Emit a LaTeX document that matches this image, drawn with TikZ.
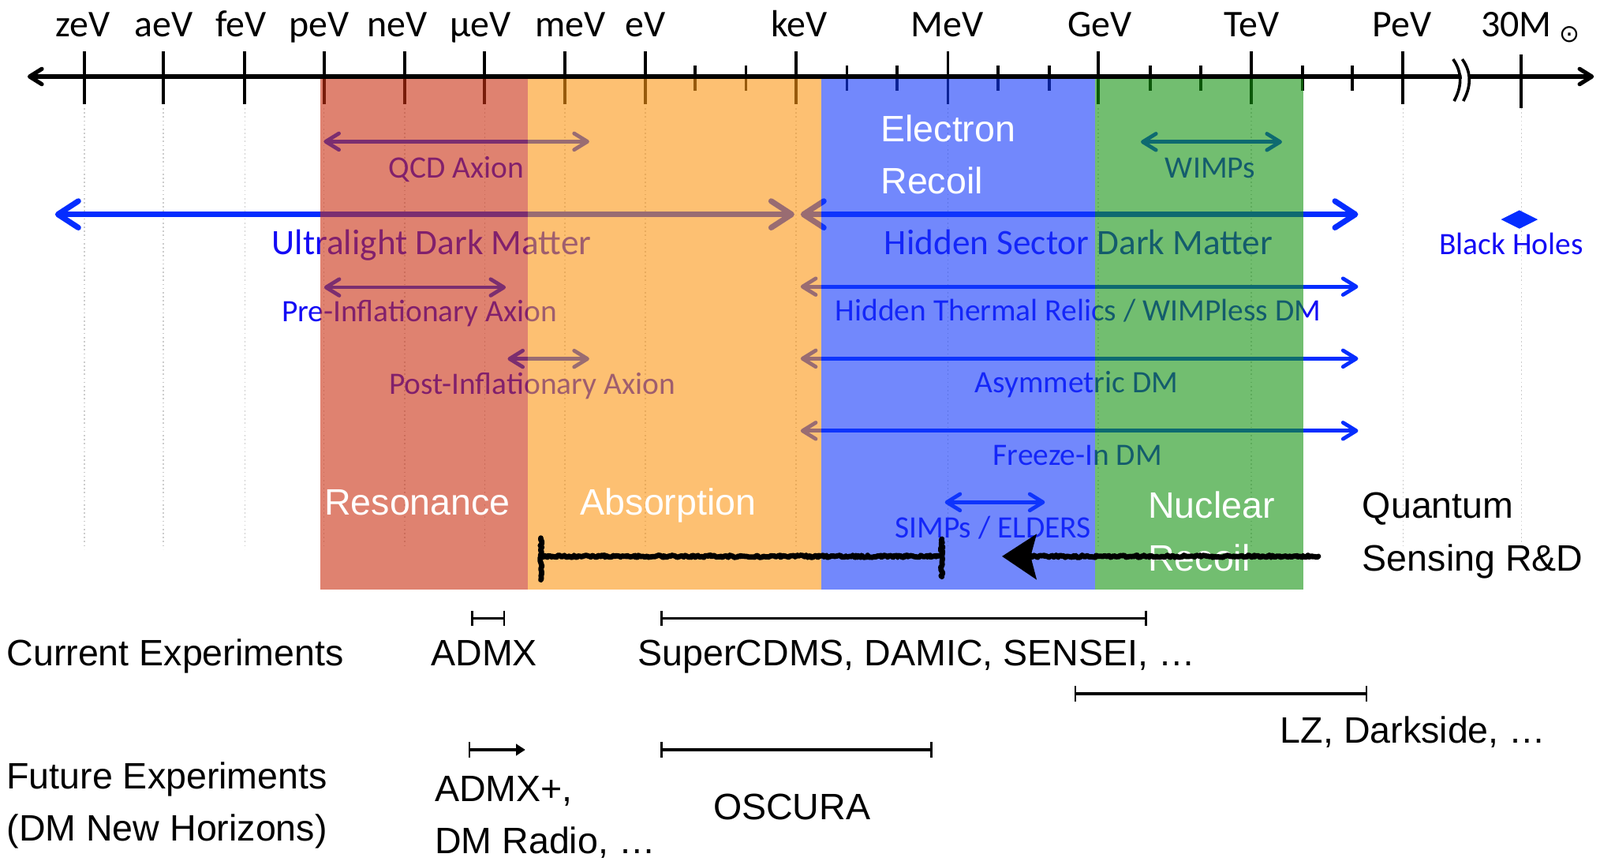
\documentclass[tikz,border=0pt]{standalone}
\usepackage{fontspec}
\setmainfont{Liberation Sans}
\newfontfamily\calib{Carlito}
\newfontfamily\djv{DejaVu Sans}
\usetikzlibrary{arrows.meta,decorations.pathmorphing}

\definecolor{arrblue}{RGB}{5,45,255}
\definecolor{txtblue}{RGB}{20,10,245}
\definecolor{bandred}{RGB}{203,47,17}
\definecolor{bandorange}{RGB}{252,150,20}
\definecolor{bandblue}{RGB}{20,58,250}
\definecolor{bandgreen}{RGB}{20,148,17}

\begin{document}
\begin{tikzpicture}[x=1pt,y=-1pt,
  bigarrow/.style={draw=arrblue, line width=5.5pt, {Straight Barb[length=20pt,width=26pt,round]}-{Straight Barb[length=20pt,width=26pt,round]}},
  smallarrow/.style={draw=arrblue, line width=3.7pt, {Straight Barb[length=13pt,width=16pt,round]}-{Straight Barb[length=13pt,width=16pt,round]}},
  axisline/.style={line width=4pt, {Straight Barb[length=12pt,width=15pt,round]}-{Straight Barb[length=12pt,width=15pt,round]}},
  biglabel/.style={anchor=base, text=txtblue, font=\calib\fontsize{35}{40}\selectfont, inner sep=0pt},
  smalllabel/.style={anchor=base, text=txtblue, font=\calib\fontsize{30.5}{36}\selectfont, inner sep=0pt},
  ticklabel/.style={anchor=base, font=\calib\fontsize{37}{42}\selectfont, inner sep=0pt},
  bandlabel/.style={anchor=base, text=white, font=\fontsize{36}{42}\selectfont, inner sep=0pt},
  explabel/.style={anchor=base, font=\fontsize{36}{42}\selectfont, inner sep=0pt},
  gridline/.style={draw=gray!40, line width=1.3pt, dash pattern=on 1.3pt off 2.7pt},
  bandfill/.style={fill opacity=0.6},
  expbar/.style={line width=2.5pt, {Bar[width=15pt,line width=2pt]}-{Bar[width=15pt,line width=2pt]}},
  qsline/.style={line width=5.2pt, line join=round, line cap=round, decorate, decoration={random steps, segment length=1.5pt, amplitude=1.1pt}},
]
\fill[white] (0,0) rectangle (1568,847);
\useasboundingbox (0,0) rectangle (1568,847);

% dotted grid
\foreach \x in {82.5,160,240,317.5,396.5,475,553.5,632.5,780,929,1076.5,1226.5,1375,1491}
  \draw[gridline] (\x,106) -- (\x,538);

% axis
\draw[axisline] (27,75) -- (1562,75);
\foreach \x in {82.5,160,240,317.5,396.5,475,553.5,632.5,780,929,1076.5,1226.5,1375}
  \draw[line width=3pt] (\x,50) -- (\x,102);
\draw[line width=3pt] (1491,53) -- (1491,106);
\foreach \x in {681,731,830,879,978,1028,1127,1176.5,1276.5,1325}
  \draw[line width=3pt] (\x,64) -- (\x,89);
% break mark
\draw[white, line width=8pt] (1429,57) .. controls (1440,72) and (1438,86) .. (1431,100);
\draw[line width=2.8pt] (1424,58) .. controls (1434,72) and (1432,86) .. (1425,99);
\draw[line width=2.8pt] (1433,58) .. controls (1443,72) and (1441,86) .. (1434,99);

% tick labels
\node[ticklabel] (lzeV) at (81,36) {zeV};
\node[ticklabel] (laeV) at (160.5,36) {aeV};
\node[ticklabel] (lfeV) at (236,36) {feV};
\node[ticklabel] (lpeV) at (312.5,36) {peV};
\node[ticklabel] (lneV) at (389,36) {neV};
\node[ticklabel] (lmueV) at (471,36) {μeV};
\node[ticklabel] (lmeV) at (559,36) {meV};
\node[ticklabel] (leV) at (632.5,36) {eV};
\node[ticklabel] (lkeV) at (783,36) {keV};
\node[ticklabel] (lMeV) at (928,36) {MeV};
\node[ticklabel] (lGeV) at (1078,36) {GeV};
\node[ticklabel] (lTeV) at (1226.5,36) {TeV};
\node[ticklabel] (lPeV) at (1374,36) {PeV};
\node[ticklabel] (l30M) at (1486,36) {30M};
\node[inner sep=0pt, font=\djv\fontsize{24}{28}\selectfont] (lsun) at (1538,33.5) {⊙};

% dark matter candidates (under the bands)
\draw[smallarrow] (317.3,138.7) -- (577.5,138.7);
\node[smalllabel] (qcd) at (447,174) {QCD Axion};
\draw[bigarrow] (54,210) -- (778.5,210);
\node[biglabel] (uldm) at (423,249) {Ultralight Dark Matter};
\draw[bigarrow] (784.6,210) -- (1331,210);
\node[biglabel] (hsdm) at (1057,249) {Hidden Sector Dark Matter};
\draw[smallarrow] (1118,139) -- (1256.4,139);
\node[smalllabel] (wimps) at (1186,174) {WIMPs};
\fill[arrblue] (1471,215) -- (1489,206) -- (1507,215) -- (1489,224) -- cycle;
\node[smalllabel] (bh) at (1481,249) {Black Holes};
\draw[smallarrow] (317.6,281.5) -- (495.7,281.5);
\node[smalllabel] (pre) at (411,315) {Pre-Inflationary Axion};
\draw[smallarrow] (784.6,280.8) -- (1331,280.8);
\node[smalllabel] (htr) at (1056.5,314.5) {Hidden Thermal Relics / WIMPless DM};
\draw[smallarrow] (497.5,351.5) -- (577.5,351.5);
\node[smalllabel] (post) at (521.5,386) {Post-Inflationary Axion};
\draw[smallarrow] (784.6,351.3) -- (1331,351.3);
\node[smalllabel] (asym) at (1055,385) {Asymmetric DM};
\draw[smallarrow] (784.6,422) -- (1331,422);
\node[smalllabel] (fi) at (1056,456) {Freeze-In DM};
\draw[smallarrow] (926,492) -- (1024,492);
\node[smalllabel] (simp) at (973,527) {SIMPs / ELDERS};

% bands
\fill[bandred, bandfill] (314,77) rectangle (517,577.5);
\fill[bandorange, bandfill] (517,77) rectangle (805,577.5);
\fill[bandblue, bandfill] (805,77) rectangle (1073,577.5);
\fill[bandgreen, bandfill] (1073,77) rectangle (1277,577.5);

% band labels
\node[bandlabel, anchor=base west] (el1) at (863,138.6) {Electron};
\node[bandlabel, anchor=base west] (el2) at (863,190) {Recoil};
\node[bandlabel] (res) at (409,504.6) {Resonance};
\node[bandlabel] (abs) at (655,504.6) {Absorption};
\node[bandlabel, anchor=base west] (nr1) at (1125,507.5) {Nuclear};
\node[bandlabel, anchor=base west] (nr2) at (1125,559) {Recoil};

% quantum sensing arrow
\draw[qsline] (530,545) -- (923,545);
\draw[qsline] (530,527) -- (530,568);
\draw[qsline] (923,528) -- (923,565);
\draw[qsline] (1008,545) -- (1292,545);
\fill[line join=round] (982,545) -- (1016,523) -- (1010,545) -- (1016,568) -- cycle;
\node[explabel, anchor=base west] (qs1) at (1335,507.7) {Quantum};
\node[explabel, anchor=base west] (qs2) at (1335,559) {Sensing R\&D};

% experiments
\node[explabel, anchor=base west] (cur) at (6.4,652) {Current Experiments};
\draw[expbar] (461.6,605.6) -- (495,605.6);
\node[explabel] (admx) at (474.5,652) {ADMX};
\draw[expbar] (647.5,605.6) -- (1124.2,605.6);
\node[explabel, anchor=base west] (scdms) at (625,652) {SuperCDMS, DAMIC, SENSEI, …};
\draw[expbar] (1052.8,679.6) -- (1340,679.6);
\node[explabel, anchor=base west] (lz) at (1254.6,728) {LZ, Darkside, …};

\node[explabel, anchor=base west] (fut1) at (6.4,773) {Future Experiments};
\node[explabel, anchor=base west] (fut2) at (6.4,824) {(DM New Horizons)};
\draw[line width=2.5pt, {Bar[width=15pt,line width=2pt]}-{Triangle[length=9pt,width=11pt]}] (459,734.5) -- (514.8,734.5);
\node[explabel, anchor=base west] (admxp1) at (426,785) {ADMX+,};
\node[explabel, anchor=base west] (admxp2) at (426,836) {DM Radio, …};
\draw[expbar] (647.5,734.5) -- (913.6,734.5);
\node[explabel] (osc) at (776,802.6) {OSCURA};
\end{tikzpicture}
\end{document}
